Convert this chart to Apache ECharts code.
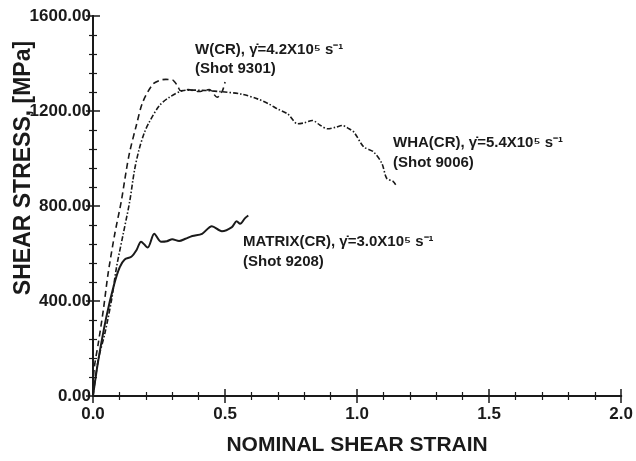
<!DOCTYPE html>
<html>
<head>
<meta charset="utf-8">
<script src="https://cdn.jsdelivr.net/npm/echarts@6/dist/echarts.min.js"></script>
<style>
  html, body { margin: 0; padding: 0; background: #fff; }
  #main { width: 636px; height: 461px; }
</style>
</head>
<body>
<div id="main"></div>
<script>
var xTicks = ['0.0', '0.5', '1.0', '1.5', '2.0'];
var yTicks = ['0.00', '400.00', '800.00', '1200.00', '1600.00'];

// W(CR), shot 9301 (dashed)
var wStrain = [0, 0.004, 0.02, 0.039, 0.057, 0.082, 0.107, 0.126, 0.139, 0.164, 0.188, 0.226, 0.255, 0.276, 0.301, 0.32, 0.332, 0.36, 0.40, 0.44, 0.47, 0.49, 0.50];
var wStress = [0, 111, 222, 361, 514, 680, 819, 950, 1028, 1139, 1236, 1312, 1330, 1333, 1331, 1306, 1285, 1290, 1282, 1290, 1258, 1285, 1322];

// WHA(CR), shot 9006 (dash-dot)
var whaStrain = [0, 0.02, 0.045, 0.07, 0.089, 0.114, 0.139, 0.157, 0.175, 0.195, 0.213, 0.251, 0.288, 0.338, 0.376, 0.43, 0.488, 0.563, 0.625, 0.665, 0.70, 0.738, 0.775, 0.80, 0.831, 0.86, 0.888, 0.92, 0.944, 0.965, 0.988, 1.025, 1.062, 1.094, 1.112, 1.137, 1.15];
var whaStress = [0, 153, 264, 403, 542, 680, 819, 950, 1040, 1110, 1153, 1222, 1257, 1285, 1288, 1286, 1281, 1271, 1250, 1230, 1208, 1187, 1146, 1150, 1160, 1140, 1125, 1132, 1139, 1128, 1111, 1049, 1028, 979, 917, 903, 882];

// MATRIX(CR), shot 9208 (solid)
var mStrain = [0, 0.02, 0.05, 0.08, 0.101, 0.12, 0.145, 0.165, 0.182, 0.207, 0.232, 0.257, 0.28, 0.30, 0.326, 0.35, 0.376, 0.413, 0.45, 0.488, 0.526, 0.544, 0.557, 0.575, 0.588];
var mStress = [0, 150, 330, 470, 542, 575, 586, 615, 650, 625, 683, 650, 652, 660, 653, 662, 674, 683, 715, 694, 711, 736, 725, 748, 760];

function pairs(xs, ys) {
  var out = [];
  for (var i = 0; i < xs.length; i++) {
    out.push([xs[i], ys[i]]);
  }
  return out;
}

var font = 'Liberation Sans';
var ink = '#1a1a1a';
var noteFont = 'bold 15px "Liberation Sans"';

var myChart = echarts.init(document.getElementById('main'));

var tickStyle = { inside: true, length: 7, lineStyle: { color: ink, width: 1.5 } };
var minorStyle = { show: true, splitNumber: 5, length: 4, lineStyle: { color: ink, width: 1.2 } };

option = {
  backgroundColor: '#fff',
  animation: false,
  grid: { left: 93, right: 9, top: 16, bottom: 60 },
  xAxis: [{
    type: 'value',
    min: 0, max: 2, interval: 0.5,
    name: 'NOMINAL SHEAR STRAIN',
    nameLocation: 'middle',
    nameGap: 39,
    nameTextStyle: { fontFamily: font, fontWeight: 'bold', fontSize: 21, color: ink },
    axisLine: { lineStyle: { color: ink, width: 2 } },
    axisTick: tickStyle,
    minorTick: minorStyle,
    splitLine: { show: false },
    axisLabel: {
      fontFamily: font, fontWeight: 'bold', fontSize: 17, color: ink, margin: 10,
      formatter: function (v) { return xTicks[Math.round(v / 0.5)]; }
    }
  }, {
    type: 'value',
    position: 'top',
    min: 0, max: 2, interval: 0.5,
    axisLine: { lineStyle: { color: ink, width: 2 } },
    axisTick: tickStyle,
    minorTick: minorStyle,
    splitLine: { show: false },
    axisLabel: { show: false }
  }],
  yAxis: [{
    type: 'value',
    min: 0, max: 1600, interval: 400,
    axisLine: { show: true, lineStyle: { color: ink, width: 2 } },
    axisTick: tickStyle,
    minorTick: minorStyle,
    splitLine: { show: false },
    axisLabel: {
      fontFamily: font, fontWeight: 'bold', fontSize: 17, color: ink, margin: 2,
      formatter: function (v) { return yTicks[Math.round(v / 400)]; }
    }
  }, {
    type: 'value',
    position: 'right',
    min: 0, max: 1600, interval: 400,
    axisLine: { show: true, lineStyle: { color: ink, width: 2 } },
    axisTick: tickStyle,
    minorTick: minorStyle,
    splitLine: { show: false },
    axisLabel: { show: false }
  }],
  graphic: [{
    type: 'text',
    x: 24, y: 168,
    rotation: Math.PI / 2,
    style: {
      text: 'SHEAR STRESS, [MPa]',
      font: 'bold 23px "Liberation Sans"',
      fill: ink,
      align: 'center',
      verticalAlign: 'middle'
    }
  }, {
    type: 'text',
    x: 195, y: 50,
    style: { text: 'W(CR), \u03b3\u0307=4.2X10\u2075 s\u207b\u00b9', font: noteFont, fill: ink, verticalAlign: 'middle' }
  }, {
    type: 'text',
    x: 195, y: 69,
    style: { text: '(Shot 9301)', font: noteFont, fill: ink, verticalAlign: 'middle' }
  }, {
    type: 'text',
    x: 393, y: 143,
    style: { text: 'WHA(CR), \u03b3\u0307=5.4X10\u2075 s\u207b\u00b9', font: noteFont, fill: ink, verticalAlign: 'middle' }
  }, {
    type: 'text',
    x: 393, y: 163,
    style: { text: '(Shot 9006)', font: noteFont, fill: ink, verticalAlign: 'middle' }
  }, {
    type: 'text',
    x: 243, y: 242,
    style: { text: 'MATRIX(CR), \u03b3\u0307=3.0X10\u2075 s\u207b\u00b9', font: noteFont, fill: ink, verticalAlign: 'middle' }
  }, {
    type: 'text',
    x: 243, y: 262,
    style: { text: '(Shot 9208)', font: noteFont, fill: ink, verticalAlign: 'middle' }
  }],
  series: [{
    name: 'W(CR)',
    type: 'line',
    data: pairs(wStrain, wStress),
    smooth: 0.3,
    showSymbol: false,
    lineStyle: { color: ink, width: 1.6, type: [6, 4] }
  }, {
    name: 'WHA(CR)',
    type: 'line',
    data: pairs(whaStrain, whaStress),
    smooth: 0.3,
    showSymbol: false,
    lineStyle: { color: ink, width: 1.6, type: [5, 2, 1.5, 2] }
  }, {
    name: 'MATRIX(CR)',
    type: 'line',
    data: pairs(mStrain, mStress),
    smooth: 0.3,
    showSymbol: false,
    lineStyle: { color: ink, width: 2 }
  }]
};
myChart.setOption(option);
</script>
</body>
</html>
